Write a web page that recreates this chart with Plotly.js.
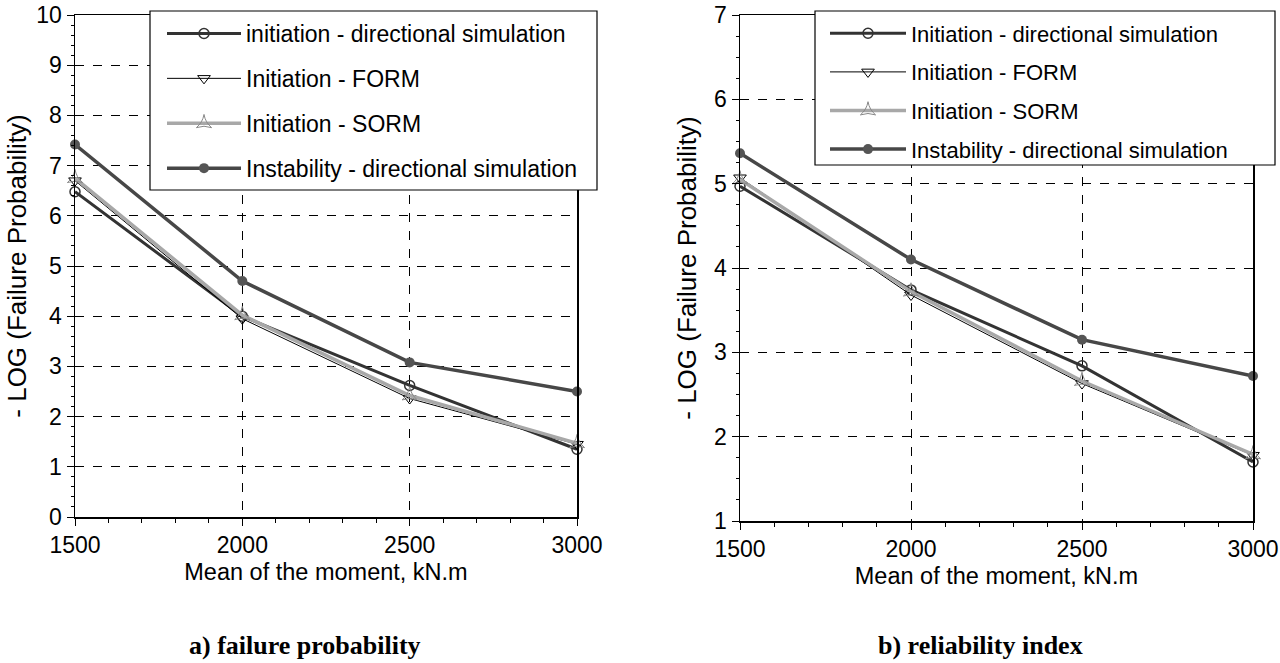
<!DOCTYPE html>
<html><head><meta charset="utf-8">
<script src="https://cdn.plot.ly/plotly-3.0.1.min.js"></script>
<style>html,body{margin:0;padding:0;background:#fff}#c{width:1280px;height:663px}</style>
</head><body><div id="c"></div>
<script>
const moments = [1500, 2000, 2500, 3000];
// a) failure probability  (-LOG Pf)
const pfInitDS   = [6.48, 4.0, 2.62, 1.35];
const pfInitFORM = [6.7, 3.95, 2.36, 1.45];
const pfInitSORM = [6.75, 4.02, 2.42, 1.47];
const pfInstDS   = [7.42, 4.7, 3.08, 2.5];
// b) reliability index
const riInitDS   = [4.97, 3.74, 2.84, 1.7];
const riInitFORM = [5.07, 3.68, 2.63, 1.78];
const riInitSORM = [5.05, 3.72, 2.66, 1.79];
const riInstDS   = [5.36, 4.1, 3.15, 2.72];
const namesA = ["initiation - directional simulation", "Initiation - FORM", "Initiation - SORM", "Instability - directional simulation"];
const namesB = ["Initiation - directional simulation", "Initiation - FORM", "Initiation - SORM", "Instability - directional simulation"];

const styles = [
  {line:{color:'#333', width:3}, marker:{symbol:'circle-open', size:10, color:'#333', line:{width:1.5}}},
  {line:{color:'#000', width:1}, marker:{symbol:'triangle-down-open', size:11, color:'#000', line:{width:1}}},
  {line:{color:'#a8a8a8', width:3.5}, marker:{symbol:'star-triangle-up-open', size:11, color:'#888', line:{width:1}}},
  {line:{color:'#474747', width:3.5}, marker:{symbol:'circle', size:10, color:'#555'}}
];
const seriesA = [pfInitDS, pfInitFORM, pfInitSORM, pfInstDS];
const seriesB = [riInitDS, riInitFORM, riInitSORM, riInstDS];
const data = [];
seriesA.forEach((ys,i)=>data.push(Object.assign({x:moments, y:ys, name:namesA[i], type:'scatter', mode:'lines+markers', xaxis:'x', yaxis:'y', legend:'legend', legendgroup:'a'+i, cliponaxis:false}, styles[i])));
seriesB.forEach((ys,i)=>data.push(Object.assign({x:moments, y:ys, name:namesB[i], type:'scatter', mode:'lines+markers', xaxis:'x2', yaxis:'y2', legend:'legend2', legendgroup:'b'+i, cliponaxis:false}, styles[i])));

const W=1280, H=663;
const px = v=>v/W, py = v=>(H-v)/H;
const font = {family:'Liberation Sans, Arial, sans-serif', color:'#000'};
function xax(domain){
  return {domain:domain, range:[1500,3000], dtick:500, tick0:1500, showgrid:true, gridcolor:'#000', griddash:'dash', gridwidth:1,
    showline:true, linecolor:'#000', linewidth:1.5, mirror:true, ticks:'outside', ticklen:7, tickcolor:'#000', zeroline:false,
    minor:{dtick:100, ticks:'outside', ticklen:4, tickcolor:'#000', showgrid:false},
    tickfont:Object.assign({size:23}, font),
    title:{text:'Mean of the moment, kN.m', font:Object.assign({size:23.5}, font), standoff:6}};
}
function yax(domain, range, anchor, minor, standoff){
  return {domain:domain, range:range, dtick:1, anchor:anchor, showgrid:true, gridcolor:'#000', griddash:'dash', gridwidth:1,
    showline:true, linecolor:'#000', linewidth:1.5, mirror:true, ticks:'outside', ticklen:7, tickcolor:'#000', zeroline:false,
    minor:{dtick:minor, ticks:'outside', ticklen:3, tickcolor:'#000', showgrid:false},
    tickfont:Object.assign({size:23}, font),
    title:{text:'- LOG (Failure Probability)', font:Object.assign({size:26}, font), standoff:standoff}};
}
const layout = {
  width:W, height:H, margin:{l:0,r:0,t:0,b:0}, paper_bgcolor:'#fff', plot_bgcolor:'#fff', showlegend:true,
  xaxis: Object.assign(xax([px(75), px(577)]), {anchor:'y'}),
  yaxis: yax([ (H-517)/H, py(15)], [0,10], 'x', 0.2, 2),
  xaxis2: Object.assign(xax([px(740), px(1253)]), {anchor:'y2'}),
  yaxis2: yax([ (H-521)/H, py(15)], [1,7], 'x2', 0.25, 10),
  legend: {x:px(162), y:py(12), xanchor:'left', yanchor:'top', bgcolor:'rgba(0,0,0,0)', borderwidth:0,
    font:Object.assign({size:23}, font), tracegroupgap:12, traceorder:'grouped', itemwidth:74},
  legend2: {x:px(825), y:py(12.5), xanchor:'left', yanchor:'top', bgcolor:'rgba(0,0,0,0)', borderwidth:0,
    font:Object.assign({size:22}, font), tracegroupgap:7, traceorder:'grouped', itemwidth:76},
  shapes:[
    {type:'rect', xref:'paper', yref:'paper', x0:px(150), x1:px(597), y0:py(190), y1:py(11), fillcolor:'#fff', line:{color:'#000', width:1.2}, layer:'above'},
    {type:'rect', xref:'paper', yref:'paper', x0:px(815), x1:px(1275), y0:py(165), y1:py(11), fillcolor:'#fff', line:{color:'#000', width:1.2}, layer:'above'}
  ],
  annotations:[
    {text:'<b>a) failure probability</b>', xref:'paper', yref:'paper', x:px(305), y:py(645), showarrow:false, xanchor:'center', yanchor:'middle',
     font:{family:'Liberation Serif, Times New Roman, serif', size:26, color:'#000'}},
    {text:'<b>b) reliability index</b>', xref:'paper', yref:'paper', x:px(980), y:py(645), showarrow:false, xanchor:'center', yanchor:'middle',
     font:{family:'Liberation Serif, Times New Roman, serif', size:26, color:'#000'}}
  ]
};
Plotly.newPlot('c', data, layout, {displayModeBar:false, staticPlot:true});
</script>
</body></html>
